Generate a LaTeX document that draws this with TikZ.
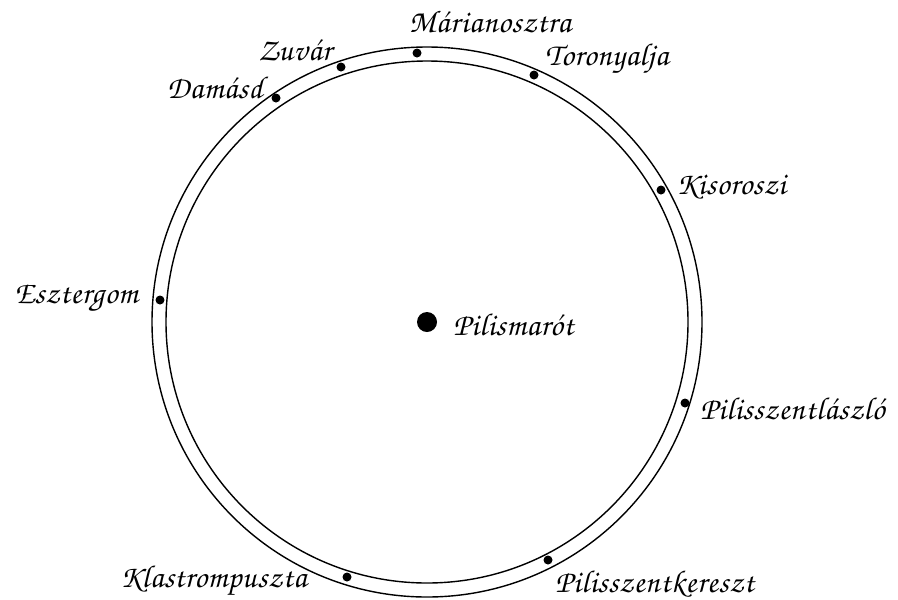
\documentclass[tikz,border=0pt]{standalone}
\usepackage{fontspec}
\usetikzlibrary{positioning}
\newfontfamily\townfont[LetterSpace=2]{texgyrechorus-mediumitalic.otf}

\begin{document}
\begin{tikzpicture}[x=0.02cm,y=-0.02cm]
  \tikzset{
    town/.style={inner sep=0pt,font=\townfont\fontsize{18}{22}\selectfont},
    stop/.style={fill=black}
  }
  \def\Rout{275}
  \def\Rin{261}
  \useasboundingbox (0,0) rectangle (898,599);

  % the ring
  \coordinate (c) at (427,322);
  \draw[line width=0.8pt] (c) circle (\Rout);
  \draw[line width=0.8pt] (c) circle (\Rin);

  % centre
  \fill (c) circle (10);
  \node[town,anchor=base west] (pilismarot) at (453,335) {Pilismarót};

  % places on the ring
  \fill[stop] (417,53) circle (4.5);
  \node[town,anchor=base] (marianosztra) at (490,32) {Márianosztra};

  \fill[stop] (341,67) circle (4.5);
  \node[town,anchor=base east] (zuvar) at (332,60) {Zuvár};

  \fill[stop] (276,98) circle (4.5);
  \node[town,anchor=base east] (damasd) at (263,98) {Damásd};

  \fill[stop] (534,75) circle (4.5);
  \node[town,anchor=base west] (toronyalja) at (545,65) {Toronyalja};

  \fill[stop] (661,190) circle (4.5);
  \node[town,anchor=base west] (kisoroszi) at (676,194) {Kisoroszi};

  \fill[stop] (160,300) circle (4.5);
  \node[town,anchor=base east] (esztergom) at (138,303) {Esztergom};

  \fill[stop] (685,403) circle (4.5);
  \node[town,anchor=base west] (pilisszentlaszlo) at (700,419) {Pilisszentlászló};

  \fill[stop] (548,560) circle (4.5);
  \node[town,anchor=base west] (pilisszentkereszt) at (555,592) {Pilisszentkereszt};

  \fill[stop] (347,577) circle (4.5);
  \node[town,anchor=base east] (klastrompuszta) at (307,587) {Klastrompuszta};
\end{tikzpicture}
\end{document}
